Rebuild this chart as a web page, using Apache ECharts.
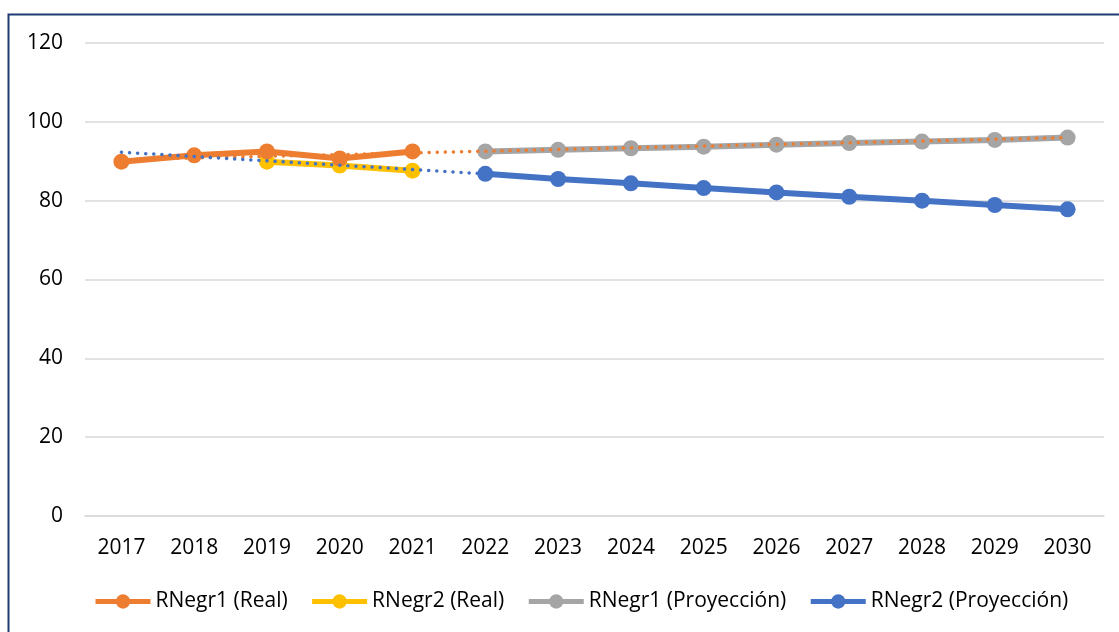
<!DOCTYPE html>
<html>
<head>
<meta charset="utf-8">
<script src="https://cdn.jsdelivr.net/npm/echarts@6/dist/echarts.min.js"></script>
<style>
html,body{margin:0;padding:0;background:#fff;}
#main{width:1119px;height:632px;}
</style>
</head>
<body>
<div id="main"></div>
<script>
const years = ['2017','2018','2019','2020','2021','2022','2023','2024','2025','2026','2027','2028','2029','2030'];
const yTicks = [0, 20, 40, 60, 80, 100, 120];
const rNegr1Real = [89.9, 91.5, 92.5, 90.7, 92.5, null, null, null, null, null, null, null, null, null];
const rNegr2Real = [null, null, 89.9, 88.9, 87.6, null, null, null, null, null, null, null, null, null];
const rNegr1Proy = [null, null, null, null, null, 92.5, 92.9, 93.3, 93.7, 94.2, 94.6, 95.0, 95.4, 96.0];
const rNegr2Proy = [null, null, null, null, null, 86.8, 85.5, 84.4, 83.2, 82.1, 81.0, 80.0, 78.9, 77.8];
// trendline endpoints (dotted)
const trend1 = [90.4, null, null, null, null, null, null, null, null, null, null, null, null, 96.0];
const trend2 = [92.3, null, null, null, null, 86.8, null, null, null, null, null, null, null, 77.8];

const FONT = 'Open Sans';
const colors = {o:'#ED7D31', y:'#FFC000', g:'#A5A5A5', b:'#4472C4'};

function mainLine(name, data, color, z) {
  return {
    name, type:'line', data, z,
    symbol:'circle', symbolSize:16,
    lineStyle:{color, width:6},
    itemStyle:{color},
    connectNulls:false,
    animation:false
  };
}
function trendLine(name, data, color) {
  return {
    name, type:'line', data, z:10,
    symbol:'none', connectNulls:true,
    lineStyle:{color, width:3.5, type:[0.1, 8], cap:'round'},
    silent:true, animation:false
  };
}
const legendNames = ['RNegr1 (Real)','RNegr2 (Real)','RNegr1 (Proyección)','RNegr2 (Proyección)'];

const chart = echarts.init(document.getElementById('main'), null, {renderer:'canvas'});
chart.setOption({
  animation:false,
  backgroundColor:'#fff',
  textStyle:{fontFamily:FONT},
  graphic:[{
    type:'rect', shape:{x:8.5, y:14.5, width:1200, height:700},
    style:{fill:'none', stroke:'#1F3B73', lineWidth:2}, z:100
  }],
  grid:{left:85, right:15, top:43, bottom:116, containLabel:false},
  legend:{
    data:legendNames,
    left:88, top:586, itemWidth:55, itemHeight:18, itemGap:22,
    lineStyle:{width:5},
    textStyle:{fontFamily:FONT, fontSize:21, color:'#000'}
  },
  xAxis:{
    type:'category', data:years, boundaryGap:true,
    axisLine:{show:true, lineStyle:{color:'#D9D9D9', width:1.5}},
    axisTick:{show:false},
    axisLabel:{fontFamily:FONT, fontSize:21, color:'#000', margin:22}
  },
  yAxis:{
    type:'value', min:yTicks[0], max:yTicks[yTicks.length-1], interval:20,
    axisLine:{show:false}, axisTick:{show:false},
    splitLine:{lineStyle:{color:'#D9D9D9', width:1.5}},
    axisLabel:{fontFamily:FONT, fontSize:21, color:'#000', margin:22}
  },
  series:[
    mainLine(legendNames[0], rNegr1Real, colors.o, 3),
    mainLine(legendNames[1], rNegr2Real, colors.y, 2),
    mainLine(legendNames[2], rNegr1Proy, colors.g, 3),
    mainLine(legendNames[3], rNegr2Proy, colors.b, 3),
    trendLine('trend1', trend1, colors.o),
    trendLine('trend2', trend2, colors.b)
  ]
});
</script>
</body>
</html>
